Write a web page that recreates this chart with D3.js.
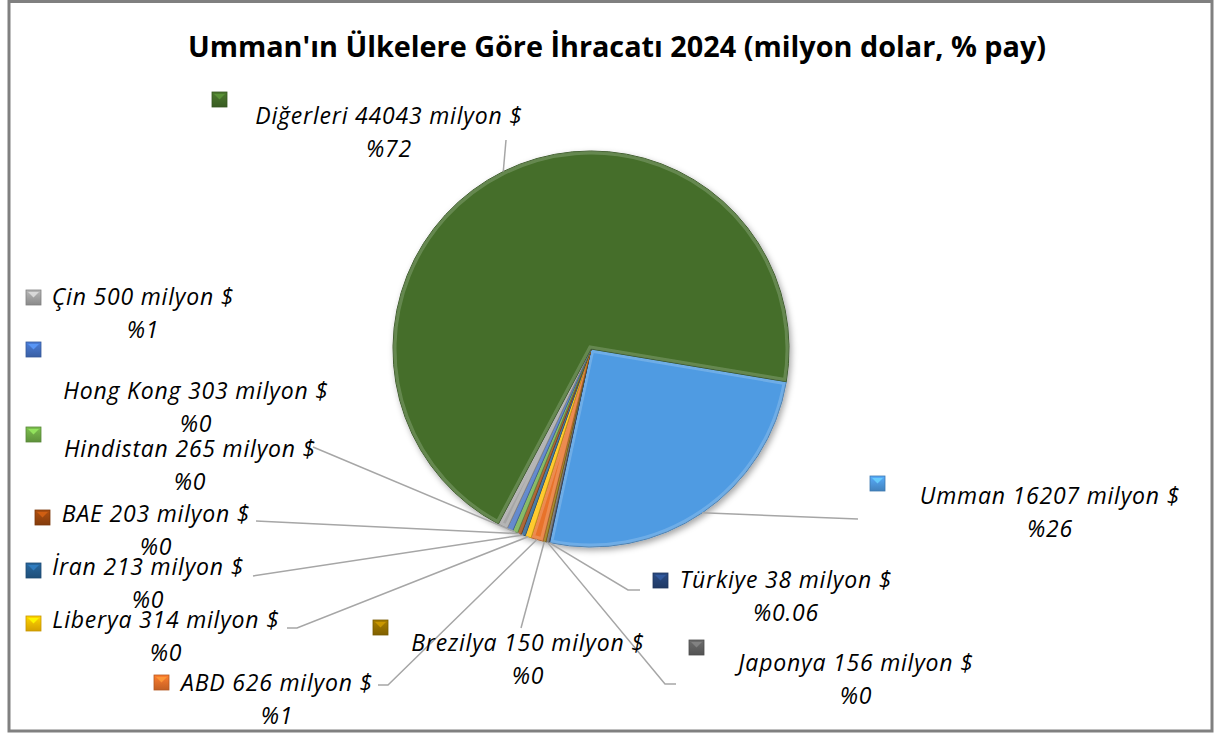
<!DOCTYPE html>
<html>
<head>
<meta charset="utf-8">
<script src="https://cdn.jsdelivr.net/npm/d3@7"></script>
<style>
  body { margin: 0; background: #fff; }
  text { font-family: "Open Sans", Lato, sans-serif; fill: #000; }
  .lbl { font-style: italic; font-size: 23px; letter-spacing: 0.8px; }
  .title { font-weight: bold; font-size: 28.8px; }
  .leader { fill: none; stroke: #a6a6a6; stroke-width: 1.5; }
</style>
</head>
<body>
<svg width="1215" height="733"></svg>
<script>
// data, in the order the slices run clockwise
var countries = ["Umman", "Türkiye", "Japonya", "Brezilya", "ABD", "Liberya", "İran", "BAE", "Hindistan", "Hong Kong", "Çin", "Diğerleri"];
var exports = [16207, 38, 156, 150, 626, 314, 213, 203, 265, 303, 500, 44043];
var shares = ["%26", "%0.06", "%0", "%0", "%1", "%0", "%0", "%0", "%0", "%0", "%1", "%72"];
var colors = ["#4f9be2", "#264478", "#636363", "#997300", "#e8722a", "#ffc000", "#255e91", "#9e480e", "#70ad47", "#4472c4", "#a5a5a5", "#446e29"];

// where each label sits (text centre x, first baseline y, marker x, marker y, leader end)
var labelPos = [
  {cx: 1050, y: 504, mx: 870, my: 476, lead: [[858, 519]]},
  {cx: 786, y: 588, mx: 653, my: 573, lead: [[628, 590], [640, 590]]},
  {cx: 856, y: 671, mx: 689, my: 640, lead: [[665, 684], [676, 684]]},
  {cx: 528, y: 651, mx: 373, my: 620, lead: [[521, 628]]},
  {cx: 277, y: 691, mx: 154, my: 675, lead: [[388, 685], [378, 685]]},
  {cx: 166, y: 628, mx: 26, my: 616, lead: [[297, 628], [287, 628]]},
  {cx: 148, y: 575, mx: 26, my: 563, lead: [[253, 576]]},
  {cx: 156, y: 522, mx: 35, my: 510, lead: [[256, 521]]},
  {cx: 190, y: 457, mx: 26, my: 427, lead: [[313, 447]]},
  {cx: 196, y: 399, mx: 26, my: 342, lead: null},
  {cx: 143, y: 305, mx: 26, my: 290, lead: null},
  {cx: 389, y: 124, mx: 212, my: 92, lead: [[506, 140]]}
];

var svg = d3.select("svg"),
    cx = 591, cy = 349, radius = 198,
    rot = 99.5 * Math.PI / 180;

var defs = svg.append("defs");

var shadow = defs.append("filter").attr("id", "shadow")
    .attr("x", "-20%").attr("y", "-20%").attr("width", "140%").attr("height", "140%");
shadow.append("feDropShadow")
    .attr("dx", 2).attr("dy", 3).attr("stdDeviation", 3)
    .attr("flood-color", "#000").attr("flood-opacity", 0.35);

// little bevel gradient for the legend-like markers
colors.forEach(function(c, i) {
  var gr = defs.append("linearGradient").attr("id", "mk" + i)
      .attr("x1", 0).attr("y1", 0).attr("x2", 0).attr("y2", 1);
  gr.append("stop").attr("offset", "0%").attr("stop-color", d3.color(c).brighter(0.3));
  gr.append("stop").attr("offset", "100%").attr("stop-color", d3.color(c).darker(0.5));
});

// frame
svg.append("rect")
    .attr("x", 9).attr("y", 1.5).attr("width", 1203).attr("height", 729.5)
    .attr("fill", "none").attr("stroke", "#808080").attr("stroke-width", 3);

svg.append("text")
    .attr("class", "title")
    .attr("x", 617).attr("y", 57)
    .attr("text-anchor", "middle")
    .text("Umman'ın Ülkelere Göre İhracatı 2024 (milyon dolar, % pay)");

var rows = countries.map(function(c, i) {
  return {name: c, value: exports[i], share: shares[i], color: colors[i], pos: labelPos[i], i: i};
});

var pie = d3.pie()
    .sort(null)
    .value(function(d) { return d.value; })
    .startAngle(rot)
    .endAngle(rot + 2 * Math.PI);

var arc = d3.arc().innerRadius(0).outerRadius(radius);
var arcs = pie(rows);

var g = svg.append("g").attr("transform", "translate(" + cx + "," + cy + ")");

// clip per slice so the inner highlight stays inside
arcs.forEach(function(d, i) {
  defs.append("clipPath").attr("id", "clip" + i)
    .append("path").attr("d", arc(d));
});

var slices = g.append("g").attr("filter", "url(#shadow)")
  .selectAll("g")
  .data(arcs)
  .enter().append("g");

slices.append("path")
    .attr("d", arc)
    .attr("fill", function(d) { return d.data.color; })
    .attr("stroke", function(d) { return d3.color(d.data.color).darker(0.8); })
    .attr("stroke-width", 1);

slices.append("path")
    .attr("d", arc)
    .attr("clip-path", function(d, i) { return "url(#clip" + i + ")"; })
    .attr("fill", "none")
    .attr("stroke", "#fff")
    .attr("stroke-opacity", 0.18)
    .attr("stroke-width", 7);

// leader lines
function edgePoint(d) {
  var a = (d.startAngle + d.endAngle) / 2;
  return [cx + radius * Math.sin(a), cy - radius * Math.cos(a)];
}

svg.append("g").selectAll("path")
  .data(arcs.filter(function(d) { return d.data.pos.lead; }))
  .enter().append("path")
    .attr("class", "leader")
    .attr("d", function(d) { return d3.line()([edgePoint(d)].concat(d.data.pos.lead)); });

// labels
var lab = svg.append("g").selectAll("g")
  .data(rows)
  .enter().append("g");

lab.append("rect")
    .attr("x", function(d) { return d.pos.mx; })
    .attr("y", function(d) { return d.pos.my; })
    .attr("width", 15).attr("height", 15)
    .attr("fill", function(d) { return "url(#mk" + d.i + ")"; })
    .attr("stroke", function(d) { return d3.color(d.color).darker(0.7); })
    .attr("stroke-width", 0.8);

// lighter top facet, the markers look like little bevelled tiles
lab.append("path")
    .attr("d", function(d) {
      var x = d.pos.mx, y = d.pos.my;
      return "M" + (x + 2) + "," + (y + 2) + "H" + (x + 13) + "L" + (x + 7.5) + "," + (y + 7.5) + "Z";
    })
    .attr("fill", function(d) { return d3.color(d.color).brighter(0.9); })
    .attr("fill-opacity", 0.8);

lab.append("text")
    .attr("class", "lbl")
    .attr("x", function(d) { return d.pos.cx; })
    .attr("y", function(d) { return d.pos.y; })
    .attr("text-anchor", "middle")
    .text(function(d) { return d.name + " " + d.value + " milyon $"; });

lab.append("text")
    .attr("class", "lbl")
    .attr("x", function(d) { return d.pos.cx; })
    .attr("y", function(d) { return d.pos.y + 33; })
    .attr("text-anchor", "middle")
    .text(function(d) { return d.share; });
</script>
</body>
</html>
